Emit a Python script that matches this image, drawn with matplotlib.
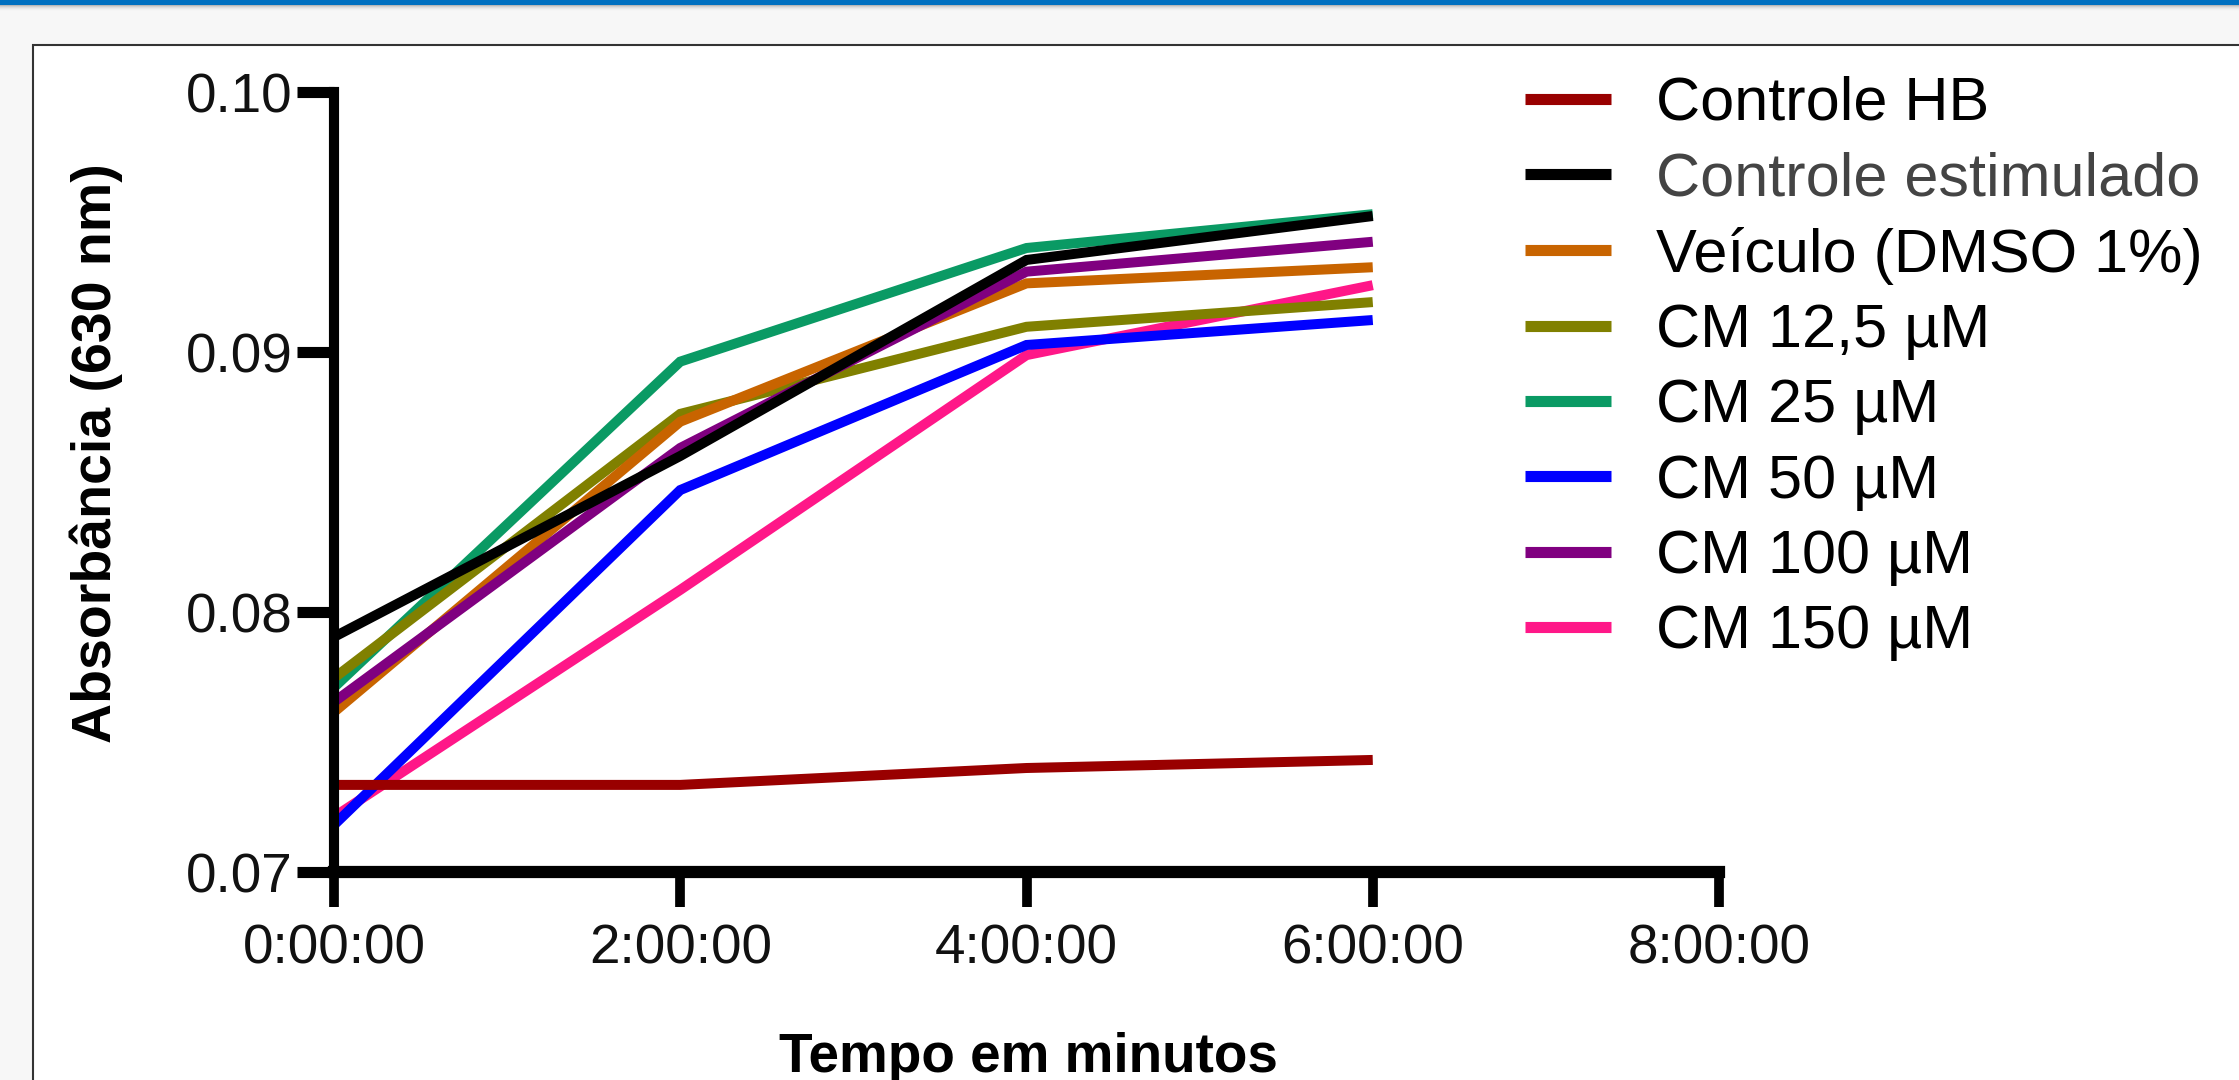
import numpy as np
import matplotlib
matplotlib.use("Agg")
import matplotlib.pyplot as plt
from matplotlib.patches import Rectangle
from matplotlib.ticker import FuncFormatter

# time points (hours) and absorbance readings (630 nm)
tempo_h = [0, 2, 4, 6]

series_names = ["Controle HB", "Controle estimulado", "Veículo (DMSO 1%)",
                "CM 12,5 µM", "CM 25 µM", "CM 50 µM", "CM 100 µM", "CM 150 µM"]
controle_hb = [0.07335, 0.07335, 0.0740, 0.07431]
controle_estimulado = [0.07904, 0.0860, 0.09354, 0.09523]
veiculo = [0.07615, 0.08732, 0.09264, 0.09326]
cm_12_5 = [0.07746, 0.08762, 0.09097, 0.09192]
cm_25 = [0.0771, 0.08963, 0.0940, 0.09530]
cm_50 = [0.07181, 0.08469, 0.09027, 0.09123]
cm_100 = [0.07654, 0.08631, 0.09309, 0.09424]
cm_150 = [0.07212, 0.08085, 0.08988, 0.09257]

colors = ["#990000", "#000000", "#c86400", "#808000",
          "#0a9a64", "#0000ff", "#800080", "#ff1788"]
layer = [7, 8, 5, 4, 3, 2, 6, 1]

x_ticks = [0, 2, 4, 6, 8]
y_ticks = [0.07, 0.08, 0.09, 0.10]

W, H = 2239, 1080
plt.rcParams['font.family'] = ['Liberation Sans', 'DejaVu Sans']
fig = plt.figure(figsize=(W / 100, H / 100), dpi=100)
fig.patch.set_facecolor("#f7f7f7")

# window-like frame around the graph
fig.patches.append(Rectangle((33 / W, -0.1), 1.2, (H - 45) / H + 0.1,
                             transform=fig.transFigure, facecolor="white",
                             edgecolor="#333333", linewidth=1.5, zorder=-3))
fig.patches.append(Rectangle((0, (H - 5) / H), 1, 5 / H, transform=fig.transFigure,
                             facecolor="#0070c0", edgecolor="none", zorder=-2))
for i, g in enumerate(["#b8b8b8", "#cfcfcf", "#dedede", "#e9e9e9", "#f1f1f1", "#f5f5f5"]):
    fig.patches.append(Rectangle((0, (H - 6 - i) / H), 1, 1 / H, transform=fig.transFigure,
                                 facecolor=g, edgecolor="none", zorder=-2))

ax = fig.add_axes([334 / W, (H - 872) / H, (1719 - 334) / W, (872 - 92) / H])
ax.set_facecolor("none")

all_series = [controle_hb, controle_estimulado, veiculo, cm_12_5,
              cm_25, cm_50, cm_100, cm_150]
for name, vals, c, z in zip(series_names, all_series, colors, layer):
    ax.plot(tempo_h, vals, color=c, linewidth=7.2, label=name,
            solid_capstyle="butt", solid_joinstyle="miter", zorder=z,
            clip_on=False)

ax.set_xlim(0, 8)
ax.set_ylim(0.07, 0.10)
ax.set_xticks(x_ticks)
ax.set_yticks(y_ticks)
ax.xaxis.set_major_formatter(FuncFormatter(lambda v, p: f"{int(v)}:00:00"))
ax.yaxis.set_major_formatter(FuncFormatter(lambda v, p: f"{v:.2f}"))

for s in ["top", "right"]:
    ax.spines[s].set_visible(False)
ax.spines["left"].set_linewidth(7.3)
ax.spines["bottom"].set_linewidth(8.8)
ax.spines["left"].set_zorder(10)
ax.spines["bottom"].set_zorder(10)
ax.tick_params(axis="y", direction="out", length=27, width=8, pad=3, labelsize=39.5)
ax.tick_params(axis="x", direction="out", length=25, width=7, pad=12, labelsize=39.5)
for lbl in ax.get_xticklabels() + ax.get_yticklabels():
    lbl.set_color("#111111")

fig.text(1028 / W, (H - 1072) / H, "Tempo em minutos", ha="center", va="baseline",
         fontsize=39.5, fontweight="bold")
fig.text(96 / W, (H - 453) / H, "Absorbância (630 nm)", ha="center", va="center",
         rotation=90, fontsize=40, fontweight="bold")

leg = fig.legend(loc="upper left", bbox_to_anchor=(1525 / W, (H - 76) / H),
                 frameon=False, fontsize=44, handlelength=1.4, handletextpad=0.74,
                 labelspacing=0.3, borderpad=0, borderaxespad=0)
for line in leg.get_lines():
    line.set_linewidth(8)
leg.get_texts()[1].set_color("#444444")

fig.savefig("out.png", dpi=100, facecolor=fig.get_facecolor())
